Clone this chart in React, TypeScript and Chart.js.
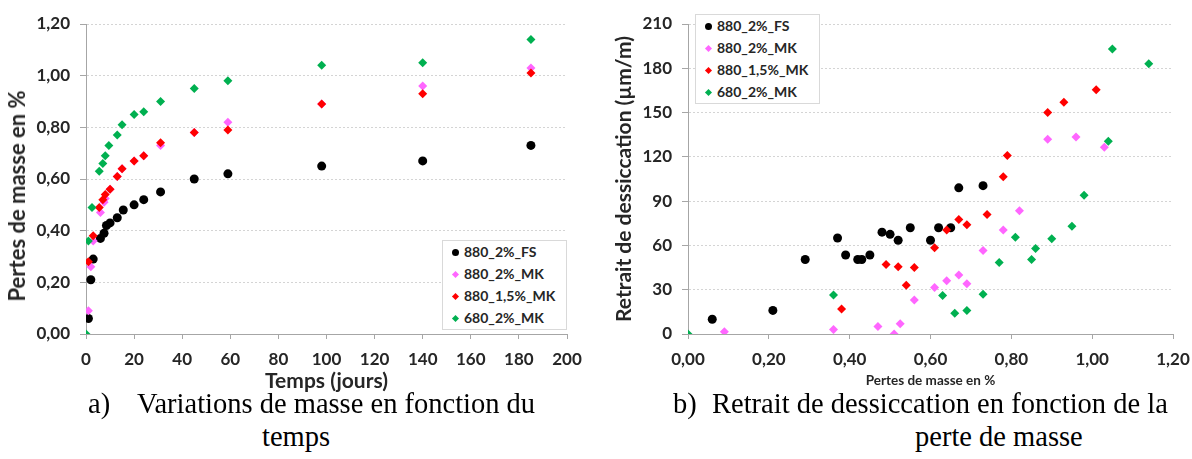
import React, { useEffect, useRef } from "react";
import { Chart, registerables } from "chart.js";

Chart.register(...registerables);

const seriesNames = ["880_2%_FS", "880_2%_MK", "880_1,5%_MK", "680_2%_MK"];
const seriesColors = ["#000000", "#FF66FF", "#FF0000", "#00B050"];
const seriesShapes = ["circle", "rectRot", "rectRot", "rectRot"];

// (a) mass loss (%) vs time (days)
const fsDays = [1, 2, 3, 6, 7.5, 8.5, 10, 13, 15.5, 20, 24, 31, 45, 59, 98, 140, 185];
const fsMass = [0.06, 0.21, 0.29, 0.37, 0.39, 0.42, 0.43, 0.45, 0.48, 0.5, 0.52, 0.55, 0.6, 0.62, 0.65, 0.67, 0.73];
const mk2Days = [1, 2, 3, 6, 7.5, 8, 10, 13, 15, 20, 24, 31, 45, 59, 98, 140, 185];
const mk2Mass = [0.09, 0.26, 0.36, 0.47, 0.51, 0.525, 0.56, 0.61, 0.64, 0.67, 0.69, 0.73, 0.78, 0.82, 0.89, 0.96, 1.03];
const mk15Days = [1, 3, 5.5, 7, 8, 10, 13, 15, 20, 24, 31, 45, 59, 98, 140, 185];
const mk15Mass = [0.28, 0.38, 0.49, 0.52, 0.54, 0.56, 0.61, 0.64, 0.67, 0.69, 0.74, 0.78, 0.79, 0.89, 0.93, 1.01];
const g680Days = [0, 1, 2.5, 5.5, 7, 8, 9.5, 13, 15, 20, 24, 31, 45, 59, 98, 140, 185];
const g680Mass = [0, 0.36, 0.49, 0.63, 0.66, 0.69, 0.73, 0.77, 0.81, 0.85, 0.86, 0.9, 0.95, 0.98, 1.04, 1.05, 1.14];

// (b) drying shrinkage (µm/m) vs mass loss (%)
const fsLoss = [0.06, 0.21, 0.29, 0.37, 0.39, 0.42, 0.43, 0.45, 0.48, 0.5, 0.52, 0.55, 0.6, 0.62, 0.65, 0.67, 0.73];
const fsShrink = [10, 16, 50.5, 65, 53.5, 50.5, 50.5, 53.5, 69, 67.5, 63.5, 72, 63.5, 72, 72, 99, 100.5];
const mk2Loss = [0.09, 0.36, 0.47, 0.51, 0.525, 0.56, 0.61, 0.64, 0.67, 0.69, 0.73, 0.78, 0.82, 0.89, 0.96, 1.03];
const mk2Shrink = [1.5, 3, 5, 0, 7, 23, 31.5, 36, 40, 34, 56.5, 70.5, 83.5, 132, 133.5, 126.5];
const mk15Loss = [0.38, 0.49, 0.52, 0.54, 0.56, 0.61, 0.64, 0.67, 0.69, 0.74, 0.78, 0.79, 0.89, 0.93, 1.01];
const mk15Shrink = [17, 47, 45.5, 33, 45, 58.5, 70.5, 77.5, 74, 81, 106.5, 121, 150, 157, 165.5];
const g680Loss = [0, 0.36, 0.63, 0.66, 0.69, 0.73, 0.77, 0.81, 0.85, 0.86, 0.9, 0.95, 0.98, 1.04, 1.05, 1.14];
const g680Shrink = [0, 26.5, 26, 14, 16, 27, 48.5, 65.5, 50.5, 58, 64.5, 73, 94, 130.5, 193, 183];

const timeTicks = { min: 0, max: 200, step: 20 };
const massTicks = { min: 0, max: 1.2, step: 0.2 };
const shrinkTicks = { min: 0, max: 210, step: 30 };

const FONT = "Lato, 'Liberation Sans', sans-serif";
const TEXT = "#262626";
const AXIS = "#a6a6a6";
const GRID = "#d4d4d4";

const comma2 = (v: number) => Number(v).toFixed(2).replace(".", ",");

function makeDatasets(xs: number[][], ys: number[][]) {
  return xs.map((xv, s) => ({
    label: seriesNames[s],
    data: xv.map((x, i) => ({ x, y: ys[s][i] })),
    pointStyle: seriesShapes[s],
    pointRadius: 4.5,
    pointHoverRadius: 4.5,
    backgroundColor: seriesColors[s],
    borderColor: seriesColors[s],
    borderWidth: 0,
    showLine: false,
    order: 4 - s,
  }));
}

type Cfg = {
  datasets: any[];
  xr: { min: number; max: number; step: number };
  yr: { min: number; max: number; step: number };
  xFmt: (v: number) => string;
  yFmt: (v: number) => string;
  xTitle: string;
  yTitle: string;
  showYTitle: boolean;
  xTitleSize: number;
  yTitleSize: number;
  yTitlePad: number;
  xTitlePadBottom: number;
  yWidth: number;
  padRight: number;
};

function ScatterPanel({ cfg, width, height }: { cfg: Cfg; width: number; height: number }) {
  const ref = useRef<HTMLCanvasElement | null>(null);
  useEffect(() => {
    if (!ref.current) return;
    const chart = new Chart(ref.current, {
      type: "scatter",
      data: { datasets: cfg.datasets },
      options: {
        responsive: false,
        animation: false,
        devicePixelRatio: 1,
        layout: { padding: { left: 0, right: cfg.padRight, top: 24, bottom: 0 } },
        plugins: { legend: { display: false }, tooltip: { enabled: false } },
        scales: {
          x: {
            type: "linear",
            min: cfg.xr.min,
            max: cfg.xr.max,
            ticks: {
              stepSize: cfg.xr.step,
              color: TEXT,
              font: { family: FONT, size: 17, weight: "bold" },
              padding: 10,
              maxRotation: 0,
              callback: (v: any) => cfg.xFmt(v),
            },
            grid: { drawOnChartArea: false, drawTicks: true, tickLength: 5, tickColor: AXIS },
            border: { color: AXIS, width: 1 },
            title: {
              display: true,
              text: cfg.xTitle,
              color: TEXT,
              font: { family: FONT, size: cfg.xTitleSize, weight: "bold" },
              padding: { top: 0, bottom: cfg.xTitlePadBottom },
            },
            afterFit: (s: any) => {
              s.height = 61;
              s.paddingLeft = 0;
              s.paddingRight = 0;
            },
          },
          y: {
            type: "linear",
            min: cfg.yr.min,
            max: cfg.yr.max,
            ticks: {
              stepSize: cfg.yr.step,
              color: TEXT,
              font: { family: FONT, size: 17, weight: "bold" },
              padding: 10,
              callback: (v: any) => cfg.yFmt(v),
            },
            grid: {
              color: GRID,
              lineWidth: 1,
              drawTicks: true,
              tickLength: 6,
              tickColor: AXIS,
              tickBorderDash: [],
            },
            border: { color: AXIS, width: 1, dash: [2, 2] },
            title: {
              display: cfg.showYTitle,
              text: cfg.yTitle,
              color: TEXT,
              font: { family: FONT, size: cfg.yTitleSize, weight: "bold" },
              padding: { top: cfg.yTitlePad, bottom: 0 },
            },
            afterFit: (s: any) => {
              s.width = cfg.yWidth;
              s.paddingTop = 0;
              s.paddingBottom = 0;
            },
          },
        },
      } as any,
    });
    return () => chart.destroy();
  }, [cfg]);
  return <canvas ref={ref} width={width} height={height} style={{ width, height, display: "block" }} />;
}

function Legend({ left, top }: { left: number; top: number }) {
  return (
    <div
      style={{
        position: "absolute",
        left,
        top,
        width: 125,
        height: 90,
        border: "1px solid #d9d9d9",
        background: "#fff",
        boxSizing: "border-box",
      }}
    >
      {seriesNames.map((name, i) => (
        <div key={name} style={{ position: "absolute", left: 0, top: 11 + i * 22, height: 0 }}>
          <div
            style={{
              position: "absolute",
              left: seriesShapes[i] === "circle" ? 9 : 10,
              top: seriesShapes[i] === "circle" ? -3.5 : -2.5,
              width: seriesShapes[i] === "circle" ? 7 : 5,
              height: seriesShapes[i] === "circle" ? 7 : 5,
              borderRadius: seriesShapes[i] === "circle" ? "50%" : 0,
              background: seriesColors[i],
              transform: seriesShapes[i] === "circle" ? "none" : "rotate(45deg)",
            }}
          />
          <div
            style={{
              position: "absolute",
              left: 21,
              top: -9,
              fontFamily: FONT,
              fontWeight: "bold",
              fontSize: 14,
              lineHeight: "18px",
              color: TEXT,
              whiteSpace: "nowrap",
            }}
          >
            {name}
          </div>
        </div>
      ))}
    </div>
  );
}

const CAP_SIZE = 28.5;
const capStyle: React.CSSProperties = {
  position: "absolute",
  fontFamily: "'Liberation Serif', 'Times New Roman', serif",
  fontSize: CAP_SIZE,
  lineHeight: `${CAP_SIZE}px`,
  whiteSpace: "nowrap",
  color: "#000",
};

const cfgA: Cfg = {
  datasets: makeDatasets([fsDays, mk2Days, mk15Days, g680Days], [fsMass, mk2Mass, mk15Mass, g680Mass]),
  xr: timeTicks,
  yr: massTicks,
  xFmt: (v) => String(v),
  yFmt: comma2,
  xTitle: "Temps (jours)",
  yTitle: "Pertes de masse en %",
  showYTitle: false,
  xTitleSize: 21,
  yTitleSize: 22,
  yTitlePad: 4,
  xTitlePadBottom: 1,
  yWidth: 86,
  padRight: 33,
};

const cfgB: Cfg = {
  datasets: makeDatasets([fsLoss, mk2Loss, mk15Loss, g680Loss], [fsShrink, mk2Shrink, mk15Shrink, g680Shrink]),
  xr: massTicks,
  yr: shrinkTicks,
  xFmt: comma2,
  yFmt: (v) => String(v),
  xTitle: "Pertes de masse en %",
  yTitle: "Retrait de dessiccation (µm/m)",
  showYTitle: true,
  xTitleSize: 13.5,
  yTitleSize: 21,
  yTitlePad: 12,
  xTitlePadBottom: 6,
  yWidth: 88,
  padRight: 19,
};

export default function App() {
  const line1Top = 414 - 24;
  const line2Top = 447 - 24;
  return (
    <div style={{ position: "fixed", left: 0, top: 0, width: 1192, height: 459, background: "#fff", overflow: "hidden" }}>
      <div style={{ position: "absolute", left: 0, top: 0 }}>
        <ScatterPanel cfg={cfgA} width={600} height={395} />
      </div>
      <div style={{ position: "absolute", left: 600, top: 0 }}>
        <ScatterPanel cfg={cfgB} width={592} height={395} />
      </div>
      <div
        style={{
          position: "absolute",
          left: 17,
          top: 196,
          width: 0,
          height: 0,
        }}
      >
        <div
          style={{
            position: "absolute",
            left: 0,
            top: 0,
            transform: "translate(-50%, -50%) rotate(-90deg)",
            fontFamily: FONT,
            fontWeight: "bold",
            fontSize: cfgA.yTitleSize,
            lineHeight: "26px",
            color: TEXT,
            whiteSpace: "nowrap",
          }}
        >
          {cfgA.yTitle}
        </div>
      </div>
      <Legend left={442} top={240} />
      <Legend left={695} top={14} />
      <div style={{ ...capStyle, left: 88, top: line1Top }}>a)</div>
      <div style={{ ...capStyle, left: 137, top: line1Top }}>Variations de masse en fonction du</div>
      <div style={{ ...capStyle, left: 262, top: line2Top }}>temps</div>
      <div style={{ ...capStyle, left: 673, top: line1Top }}>b)</div>
      <div style={{ ...capStyle, left: 712, top: line1Top }}>Retrait de dessiccation en fonction de la</div>
      <div style={{ ...capStyle, left: 915, top: line2Top }}>perte de masse</div>
    </div>
  );
}
